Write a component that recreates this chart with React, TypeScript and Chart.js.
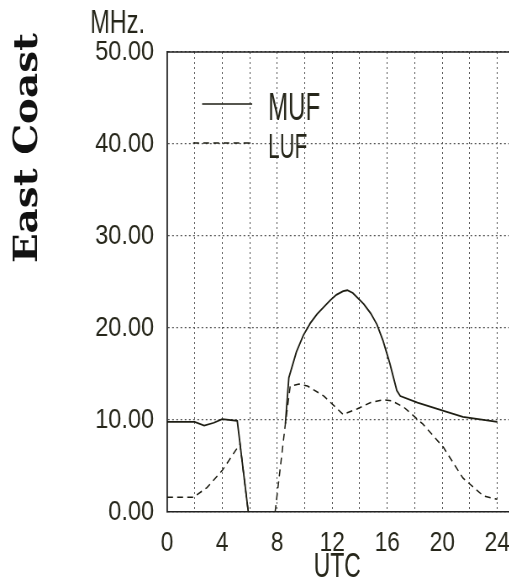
import React, { useEffect, useRef } from 'react';
import { Chart, registerables } from 'chart.js';

Chart.register(...registerables);

// ---- data ----
const mufHours = [0, 2, 2.7, 3.4, 4, 5.1, 5.9, 7, 8.6, 8.85, 9.4, 9.9, 10.4, 10.9, 11.4, 11.85, 12.3, 12.8, 13.1, 13.5, 14.3, 14.8, 15.25, 15.7, 16.2, 16.7, 16.95, 18.2, 20.1, 21.5, 24];
const mufValues = [9.8, 9.8, 9.4, 9.7, 10.1, 9.9, 0, null, 9.6, 14.6, 17.4, 19.2, 20.5, 21.5, 22.3, 23.0, 23.6, 24.0, 24.1, 23.8, 22.6, 21.6, 20.4, 18.6, 16.1, 13.2, 12.6, 11.9, 11.0, 10.35, 9.8];

const lufHours = [0, 1.9, 2.9, 4.0, 5.3, 5.9, 7, 7.85, 8.6, 8.95, 9.6, 10.2, 11.4, 12.8, 13.8, 14.8, 15.7, 16.3, 17.2, 18.6, 20.1, 21.5, 23.0, 24];
const lufValues = [1.6, 1.6, 2.65, 4.5, 7.4, 0, null, 0, 9.6, 13.7, 13.9, 13.7, 12.6, 10.6, 11.2, 11.9, 12.2, 12.1, 11.4, 9.55, 7.0, 3.7, 1.74, 1.38];

const xGridHours = [0, 2, 4, 6, 8, 10, 12, 14, 16, 18, 20, 22, 24];
const xLabelHours = [0, 4, 8, 12, 16, 20, 24];
const yTickValues = [0, 10, 20, 30, 40, 50];
const seriesNames = ['MUF', 'LUF'];
const yUnit = 'MHz.';
const xTitle = 'UTC';
const panelTitle = 'East Coast';

// The bitmap is drawn wider and squeezed horizontally by CSS to get the condensed lettering.
const K = 0.84;
const CSS_W = 511;
const CSS_H = 580;
const BMP_W = Math.round(CSS_W / K);

const SANS = "'Liberation Sans', Arial, sans-serif";
const INK = '#26261a';
const LINE = '#1e1e14';

const sx = (px: number) => px / K; // screen px -> bitmap px (horizontal)

function drawFitText(ctx: CanvasRenderingContext2D, text: string, x: number, baseline: number, size: number, width: number, align: 'left' | 'center' | 'right', font = SANS, weight = '') {
  ctx.save();
  ctx.font = `${weight} ${size}px ${font}`.trim();
  ctx.textBaseline = 'alphabetic';
  ctx.textAlign = 'left';
  const w = ctx.measureText(text).width;
  const s = width / w;
  let x0 = x;
  if (align === 'center') x0 = x - width / 2;
  if (align === 'right') x0 = x - width;
  ctx.translate(x0, baseline);
  ctx.scale(s, 1);
  ctx.fillText(text, 0, 0);
  ctx.restore();
}

const decorPlugin = {
  id: 'decor',
  afterDraw(chart: any) {
    const { ctx, chartArea } = chart;
    const { left, top, right } = chartArea;
    ctx.save();
    // top frame line
    ctx.strokeStyle = '#222';
    ctx.lineWidth = 1.5;
    ctx.beginPath();
    ctx.moveTo(left, top);
    ctx.lineTo(right, top);
    ctx.stroke();

    // legend
    ctx.strokeStyle = LINE;
    ctx.lineWidth = 1.6;
    ctx.beginPath();
    ctx.moveTo(left + sx(35), top + 52);
    ctx.lineTo(left + sx(85), top + 52);
    ctx.stroke();
    ctx.setLineDash([7, 5]);
    ctx.beginPath();
    ctx.moveTo(left + sx(26), top + 91);
    ctx.lineTo(left + sx(84), top + 91);
    ctx.stroke();
    ctx.setLineDash([]);

    ctx.fillStyle = INK;
    drawFitText(ctx, seriesNames[0], left + sx(101), top + 68, 38, sx(52), 'left');
    drawFitText(ctx, seriesNames[1], left + sx(101), top + 106, 35, sx(39), 'left');

    // unit label
    drawFitText(ctx, yUnit, sx(90), 33, 34, sx(55), 'left');
    // x title
    drawFitText(ctx, xTitle, sx(337), 577, 35, sx(47), 'center');

    // rotated panel title
    ctx.save();
    ctx.fillStyle = '#111';
    ctx.translate(sx(37), 148);
    ctx.rotate(-Math.PI / 2);
    drawFitText(ctx, panelTitle, 0, 0, 39, 230, 'center', "'DejaVu Serif', 'Liberation Serif', serif", 'bold');
    ctx.restore();
    ctx.restore();
  },
};

export default function App() {
  const ref = useRef<HTMLCanvasElement>(null);

  useEffect(() => {
    const canvas = ref.current;
    if (!canvas) return;
    const chart = new Chart(canvas, {
      type: 'line',
      data: {
        datasets: [
          {
            label: seriesNames[0],
            data: mufHours.map((h, i) => ({ x: h, y: mufValues[i] })),
            borderColor: LINE,
            borderWidth: 1.8,
            pointRadius: 0,
            tension: 0,
            spanGaps: false,
          },
          {
            label: seriesNames[1],
            data: lufHours.map((h, i) => ({ x: h, y: lufValues[i] })),
            borderColor: LINE,
            borderWidth: 1.5,
            borderDash: [7, 5],
            pointRadius: 0,
            tension: 0,
            spanGaps: false,
          },
        ],
      },
      options: {
        animation: false,
        responsive: false,
        devicePixelRatio: 1,
        layout: { padding: { top: 52, left: 0, right: 0, bottom: 0 } },
        plugins: { legend: { display: false }, tooltip: { enabled: false } },
        scales: {
          x: {
            type: 'linear',
            min: 0,
            max: 25,
            afterBuildTicks: (s: any) => {
              s.ticks = xGridHours.map((v) => ({ value: v }));
            },
            afterFit: (s: any) => {
              s.height = 68;
              s.paddingLeft = 0;
              s.paddingRight = 0;
            },
            ticks: {
              autoSkip: false,
              maxRotation: 0,
              padding: 15,
              color: INK,
              font: { family: SANS, size: 27 },
              callback: (v: any) => (xLabelHours.includes(Number(v)) ? String(v) : ''),
            },
            grid: { color: '#555', lineWidth: 1, drawTicks: false },
            border: { display: true, color: '#222', width: 1.6, dash: [2, 3] },
          },
          y: {
            type: 'linear',
            min: 0,
            max: 50,
            afterBuildTicks: (s: any) => {
              s.ticks = yTickValues.map((v) => ({ value: v }));
            },
            afterFit: (s: any) => {
              s.width = sx(167);
            },
            ticks: {
              padding: sx(13),
              color: INK,
              font: { family: SANS, size: 28 },
              callback: (v: any) => Number(v).toFixed(2),
            },
            grid: { color: '#555', lineWidth: 1.2, drawTicks: false },
            border: { display: true, color: '#222', width: 1.8, dash: [2, 3] },
          },
        },
      },
      plugins: [decorPlugin],
    } as any);
    return () => chart.destroy();
  }, []);

  return (
    <div style={{ position: 'fixed', left: 0, top: 0, width: 509, height: 580, overflow: 'hidden', background: '#fff' }}>
      <canvas ref={ref} width={BMP_W} height={CSS_H} style={{ display: 'block', width: CSS_W, height: CSS_H }} />
    </div>
  );
}
